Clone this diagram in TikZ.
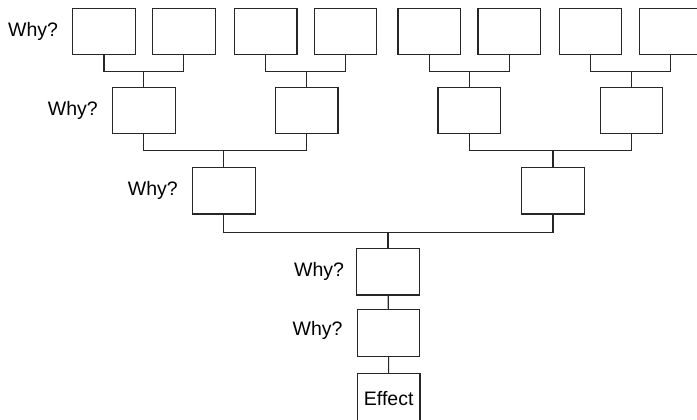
\documentclass[tikz,border=0pt]{standalone}
\usepackage{fontspec}
\setmainfont{Liberation Sans}
\usetikzlibrary{positioning}
\begin{document}
\begin{tikzpicture}[x=1pt, y=-1pt, font=\fontsize{19.5}{23}\selectfont]
    \tikzset{
        causebox/.style={rectangle, draw=black!85, line width=1.1pt, fill=white,
            minimum width=62.5pt, minimum height=46.5pt, inner sep=0pt},
        whytext/.style={inner sep=0pt},
        link/.style={draw=black!85, line width=1.1pt}
    }
    \useasboundingbox (0,0) rectangle (697,420);
    % first level of causes
    \node[causebox] (a1) at (104,31.7) {};
    \node[causebox] (a2) at (183.8,31.7) {};
    \node[causebox] (a3) at (265.7,31.7) {};
    \node[causebox] (a4) at (345.5,31.7) {};
    \node[causebox] (a5) at (429.2,31.7) {};
    \node[causebox] (a6) at (509.2,31.7) {};
    \node[causebox] (a7) at (590.5,31.7) {};
    \node[causebox] (a8) at (670.7,31.7) {};
    % second level
    \node[causebox] (b1) at (143.8,110.5) {};
    \node[causebox] (b2) at (306.7,110.5) {};
    \node[causebox] (b3) at (469.2,110.5) {};
    \node[causebox] (b4) at (631.5,110.5) {};
    % third level
    \node[causebox] (c1) at (223.8,190.7) {};
    \node[causebox] (c2) at (553,190.7) {};
    % single chain down to the effect
    \node[causebox] (d1) at (388,271.7) {};
    \node[causebox] (e1) at (388.5,333) {};
    \node[causebox, minimum height=50pt] (effect) at (388.7,398.5) {Effect};
    % why labels
    \node[whytext, left=14pt of a1] (why1) {Why?};
    \node[whytext, left=14pt of b1] (why2) {Why?};
    \node[whytext, left=14pt of c1] (why3) {Why?};
    \node[whytext, left=12pt of d1] (why4) {Why?};
    \node[whytext, left=14pt of e1, yshift=2.5pt] (why5) {Why?};
    % brackets
    \draw[link] (b1.north) -- ++(0,-15.5) coordinate (j1);
    \draw[link] (a1.south) |- (j1) -| (a2.south);
    \draw[link] (b2.north) -- ++(0,-15.5) coordinate (j2);
    \draw[link] (a3.south) |- (j2) -| (a4.south);
    \draw[link] (b3.north) -- ++(0,-15.5) coordinate (j3);
    \draw[link] (a5.south) |- (j3) -| (a6.south);
    \draw[link] (b4.north) -- ++(0,-15.5) coordinate (j4);
    \draw[link] (a7.south) |- (j4) -| (a8.south);
    \draw[link] (c1.north) -- ++(0,-16) coordinate (k1);
    \draw[link] (b1.south) |- (k1) -| (b2.south);
    \draw[link] (c2.north) -- ++(0,-16.5) coordinate (k2);
    \draw[link] (b3.south) |- (k2) -| (b4.south);
    \draw[link] (d1.north) -- ++(0,-15.6) coordinate (m1);
    \draw[link] (c1.south) |- (m1) -| (c2.south);
    \draw[link] (d1) -- (e1);
    \draw[link] (e1) -- (effect);
\end{tikzpicture}
\end{document}
